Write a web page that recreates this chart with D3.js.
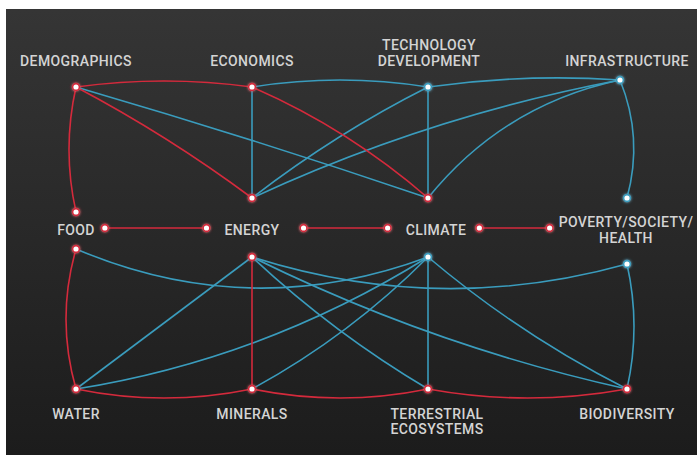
<!DOCTYPE html>
<html>
<head>
<meta charset="utf-8">
<script src="https://cdn.jsdelivr.net/npm/d3@7.9.0/dist/d3.min.js"></script>
<style>
  body { margin: 0; background: #fff; }
  svg { display: block; }
  .label { font-family: Roboto, sans-serif; font-weight: 500; font-size: 14px; letter-spacing: 0.4px; fill: #d4d4d4; }
</style>
</head>
<body>
<svg width="698" height="455"></svg>
<script>
// three rows of topics; the middle row is drawn twice as ports (upper / lower)
const topNodes = ['Demographics', 'Economics', 'Technology', 'Infrastructure'];
const topLabels = ['DEMOGRAPHICS', 'ECONOMICS', 'TECHNOLOGY\nDEVELOPMENT', 'INFRASTRUCTURE'];
const midNodes = ['Food', 'Energy', 'Climate', 'Poverty'];
const midLabels = ['FOOD', 'ENERGY', 'CLIMATE', 'POVERTY/SOCIETY/\nHEALTH'];
const lowNodes = ['Water', 'Minerals', 'Terrestrial', 'Biodiversity'];
const lowLabels = ['WATER', 'MINERALS', 'TERRESTRIAL\nECOSYSTEMS', 'BIODIVERSITY'];

// links: [source, target, kind]
const upperLinks = [
  ['Demographics', 'Economics', 'strong'],
  ['Demographics', 'Food', 'strong'],
  ['Demographics', 'Energy', 'strong'],
  ['Demographics', 'Climate', 'weak'],
  ['Economics', 'Technology', 'weak'],
  ['Economics', 'Energy', 'weak'],
  ['Economics', 'Climate', 'strong'],
  ['Technology', 'Infrastructure', 'weak'],
  ['Technology', 'Climate', 'weak'],
  ['Technology', 'Energy', 'weak'],
  ['Infrastructure', 'Energy', 'weak'],
  ['Infrastructure', 'Climate', 'weak'],
  ['Infrastructure', 'Poverty', 'weak']
];
const middleLinks = [
  ['Food', 'Energy', 'strong'],
  ['Energy', 'Climate', 'strong'],
  ['Climate', 'Poverty', 'strong']
];
const lowerLinks = [
  ['Food', 'Water', 'strong'],
  ['Food', 'Climate', 'weak'],
  ['Energy', 'Poverty', 'weak'],
  ['Energy', 'Minerals', 'strong'],
  ['Energy', 'Water', 'weak'],
  ['Energy', 'Terrestrial', 'weak'],
  ['Energy', 'Biodiversity', 'weak'],
  ['Water', 'Climate', 'weak'],
  ['Minerals', 'Climate', 'weak'],
  ['Climate', 'Terrestrial', 'weak'],
  ['Climate', 'Biodiversity', 'weak'],
  ['Poverty', 'Biodiversity', 'weak'],
  ['Water', 'Minerals', 'strong'],
  ['Minerals', 'Terrestrial', 'strong'],
  ['Terrestrial', 'Biodiversity', 'strong']
];

// ---- layout ----
const svg = d3.select('svg');
const W = 698, H = 455;

const col = d3.scaleOrdinal().domain(d3.range(4)).range([76, 252, 428, 627]);
const row = d3.scaleOrdinal()
  .domain(['top', 'upper', 'middle', 'lower', 'bottom'])
  .range([87, 198, 228, 257, 389]);
const color = d3.scaleOrdinal().domain(['strong', 'weak']).range(['#d42a3c', '#3a9cbd']);

// small hand nudges for a few nodes
const nudge = {
  'top:Infrastructure': [-7, -7],
  'upper:Food': [0, 14],
  'lower:Food': [0, -8],
  'lower:Poverty': [0, 7]
};
// curvature of links (px off the straight line at the middle)
const bend = {
  'Demographics-Economics': -6, 'Demographics-Food': 7, 'Demographics-Energy': -4,
  'Demographics-Climate': -2, 'Economics-Technology': -7, 'Economics-Climate': -8,
  'Technology-Infrastructure': -5, 'Technology-Energy': 5, 'Infrastructure-Energy': 12,
  'Infrastructure-Climate': 20, 'Infrastructure-Poverty': -10,
  'Food-Water': 10, 'Food-Climate': 35, 'Energy-Poverty': 28, 'Energy-Terrestrial': 6,
  'Energy-Biodiversity': 12, 'Water-Climate': 19, 'Minerals-Climate': 8,
  'Climate-Biodiversity': 7, 'Poverty-Biodiversity': -7,
  'Water-Minerals': 9, 'Minerals-Terrestrial': 9, 'Terrestrial-Biodiversity': 9
};
// gap between a middle label and its side dots [left, right]
const sideGap = { Food: [10, 10], Energy: [18, 24], Climate: [18, 13], Poverty: [9, 9] };

const pos = {};
function place(names, level) {
  names.forEach((n, i) => {
    const d = nudge[level + ':' + n] || [0, 0];
    pos[level + ':' + n] = { x: col(i) + d[0], y: row(level) + d[1] };
  });
}
place(topNodes, 'top');
place(midNodes, 'upper');
place(midNodes, 'lower');
place(lowNodes, 'bottom');

function key(level, name) {
  if (level === 'upper') return (topNodes.includes(name) ? 'top:' : 'upper:') + name;
  return (lowNodes.includes(name) ? 'bottom:' : 'lower:') + name;
}

// background
const defs = svg.append('defs');
const grad = defs.append('linearGradient').attr('id', 'bg').attr('x1', 0).attr('x2', 0).attr('y1', 0).attr('y2', 1);
grad.append('stop').attr('offset', '0%').attr('stop-color', '#353535');
grad.append('stop').attr('offset', '100%').attr('stop-color', '#1c1c1c');
const glow = defs.append('filter').attr('id', 'glow').attr('x', '-100%').attr('y', '-100%').attr('width', '300%').attr('height', '300%');
glow.append('feGaussianBlur').attr('stdDeviation', 1.6).attr('result', 'b');
const merge = glow.append('feMerge');
merge.append('feMergeNode').attr('in', 'b');
merge.append('feMergeNode').attr('in', 'SourceGraphic');

svg.append('rect').attr('x', 6).attr('y', 9).attr('width', W - 7).attr('height', H - 9).attr('fill', 'url(#bg)');

// labels
const fontLine = 15.5;
function drawLabels(names, labels, level) {
  labels.forEach((lab, i) => {
    const lines = lab.split('\n');
    const shift = { Climate: 8, Terrestrial: 9, Technology: 1, Poverty: -1 }[names[i]] || 0;
    const g = svg.append('text').attr('class', 'label').attr('text-anchor', 'middle');
    lines.forEach((ln, j) => {
      let y;
      if (level === 'top') y = row('top') - 21.5 - (lines.length - 1 - j) * fontLine;
      else if (level === 'middle') y = row('middle') + 7 + (j - (lines.length - 1) / 2) * fontLine;
      else y = row('bottom') + 30 + j * fontLine - (j ? 1 : 0);
      g.append('tspan').attr('x', col(i) + shift).attr('y', y).text(ln);
    });
    if (level === 'middle') {
      const bb = g.node().getBBox();
      const gap = sideGap[names[i]];
      pos['midL:' + names[i]] = { x: bb.x - gap[0], y: row('middle') };
      pos['midR:' + names[i]] = { x: bb.x + bb.width + gap[1], y: row('middle') };
    }
  });
}
drawLabels(topNodes, topLabels, 'top');
drawLabels(midNodes, midLabels, 'middle');
drawLabels(lowNodes, lowLabels, 'bottom');

function curvePath(a, b, k) {
  const p = d3.path();
  const dx = b.x - a.x, dy = b.y - a.y, L = Math.hypot(dx, dy);
  const cx = (a.x + b.x) / 2 - dy / L * k * 2;
  const cy = (a.y + b.y) / 2 + dx / L * k * 2;
  p.moveTo(a.x, a.y);
  p.quadraticCurveTo(cx, cy, b.x, b.y);
  return p.toString();
}

const edges = [];
upperLinks.forEach(([s, t, kind]) => edges.push({ a: key('upper', s), b: key('upper', t), kind, k: bend[s + '-' + t] || 0 }));
lowerLinks.forEach(([s, t, kind]) => edges.push({ a: key('lower', s), b: key('lower', t), kind, k: bend[s + '-' + t] || 0 }));
middleLinks.forEach(([s, t, kind]) => edges.push({ a: 'midR:' + s, b: 'midL:' + t, kind, k: 0 }));

// draw weak links first so red stays on top
const order = edges.slice().sort((e1, e2) => (e1.kind === 'weak' ? 0 : 1) - (e2.kind === 'weak' ? 0 : 1));
svg.append('g').selectAll('path').data(order).join('path')
  .attr('d', (d) => curvePath(pos[d.a], pos[d.b], d.k))
  .attr('fill', 'none')
  .attr('stroke', (d) => color(d.kind))
  .attr('stroke-width', 1.6);

// a node is red when any strong link touches it
const nodeKind = {};
edges.forEach((e) => {
  [e.a, e.b].forEach((n) => {
    if (e.kind === 'strong' || !nodeKind[n]) nodeKind[n] = nodeKind[n] === 'strong' ? 'strong' : e.kind;
  });
});

svg.append('g').attr('filter', 'url(#glow)').selectAll('circle').data(Object.keys(nodeKind)).join('circle')
  .attr('cx', (d) => pos[d].x)
  .attr('cy', (d) => pos[d].y)
  .attr('r', 3.4)
  .attr('fill', '#fff')
  .attr('stroke', (d) => color(nodeKind[d]))
  .attr('stroke-width', 1.6);
</script>
</body>
</html>
